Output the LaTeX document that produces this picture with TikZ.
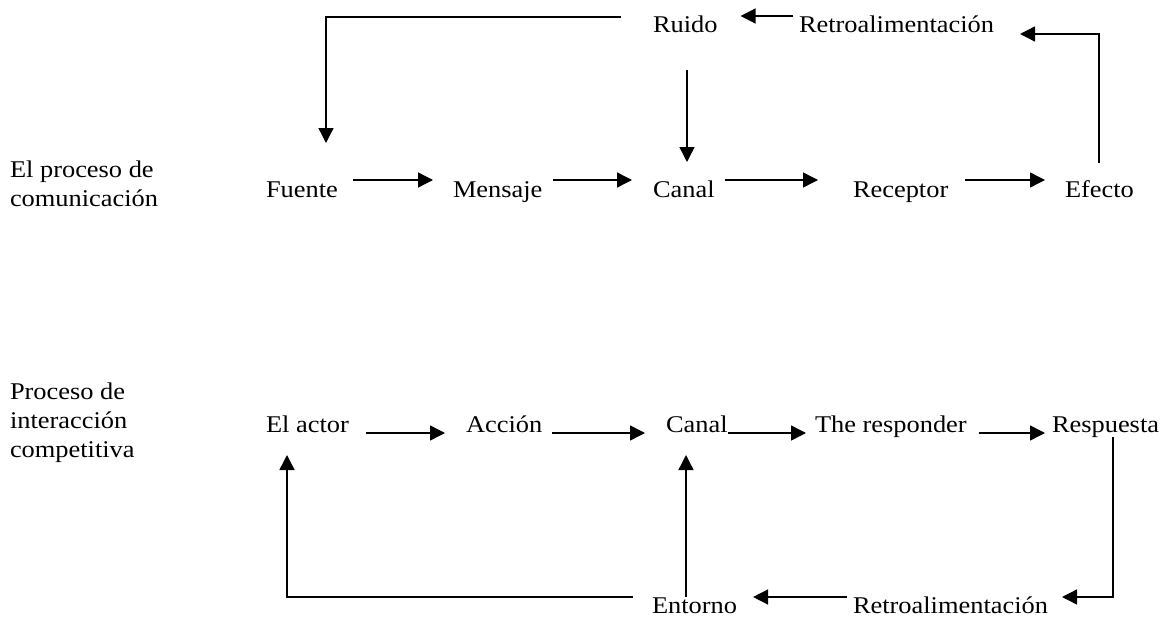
\documentclass[tikz,border=0pt]{standalone}
\usepackage{fontspec}
\setmainfont{Liberation Serif}
\usetikzlibrary{arrows.meta}
\begin{document}
\begin{tikzpicture}[x=1pt,y=-1pt,
  lbl/.style={anchor=base west,inner sep=0pt,outer sep=0pt,xscale=1.1,
    font=\fontsize{24}{29}\selectfont,align=left},
  arr/.style={line width=1.4pt,-{Triangle[length=15pt,width=15pt]}}]
\useasboundingbox (0,0) rectangle (1165,618);

% ---- El proceso de comunicación ----
\node[lbl] (t1) at (10,206) {El proceso de\\comunicación};
\node[lbl] (fuente)   at (266,197) {Fuente};
\node[lbl] (mensaje)  at (453,197) {Mensaje};
\node[lbl] (canal)    at (653,197) {Canal};
\node[lbl] (receptor) at (853,197) {Receptor};
\node[lbl] (efecto)   at (1065,197) {Efecto};
\node[lbl] (ruido)    at (653,33) {Ruido};
\node[lbl] (retro)    at (799,33) {Retroalimentación};

\coordinate (r1) at (0,180);
\draw[arr] ([xshift=15]fuente.east |- r1)   -- ([xshift=-20]mensaje.west |- r1);
\draw[arr] ([xshift=11]mensaje.east |- r1)  -- ([xshift=-21]canal.west |- r1);
\draw[arr] ([xshift=10]canal.east |- r1)    -- ([xshift=-35]receptor.west |- r1);
\draw[arr] ([xshift=17]receptor.east |- r1) -- ([xshift=-20]efecto.west |- r1);

\draw[arr] ([xshift=-6,yshift=17]retro.base west) -- ([xshift=23,yshift=17]ruido.base east);
\draw[arr] ([xshift=-32,yshift=16]ruido.base west) -| ([xshift=60,yshift=54]fuente.base west);
\draw[arr] ([xshift=34,yshift=-37]ruido.base west) -- ([xshift=34,yshift=35]canal.base west);
\draw[arr] ([xshift=34,yshift=34]efecto.base west) |- ([xshift=26,yshift=-1]retro.base east);

% ---- Proceso de interacción competitiva ----
\node[lbl] (t2) at (10,457) {Proceso de\\interacción\\competitiva};
\node[lbl] (actor)  at (266,432) {El actor};
\node[lbl] (accion) at (466,432) {Acción};
\node[lbl] (canal2) at (666,432) {Canal};
\node[lbl] (resp)   at (815,432) {The responder};
\node[lbl] (respta) at (1052,432) {Respuesta};
\node[lbl] (entorno) at (652,613) {Entorno};
\node[lbl] (retro2)  at (853,613) {Retroalimentación};

\coordinate (r2) at (0,433);
\draw[arr] ([xshift=17]actor.east |- r2)  -- ([xshift=-21]accion.west |- r2);
\draw[arr] ([xshift=10]accion.east |- r2) -- ([xshift=-21]canal2.west |- r2);
\draw[arr] (canal2.east |- r2)            -- ([xshift=-9]resp.west |- r2);
\draw[arr] ([xshift=12]resp.east |- r2)   -- ([xshift=-7]respta.west |- r2);

\draw[arr] ([xshift=61,yshift=-5]respta.base west) |- ([xshift=14,yshift=16]retro2.base east);
\draw[arr] ([xshift=-6,yshift=16]retro2.base west) -- ([xshift=16,yshift=16]entorno.base east);
\draw[arr] ([xshift=34,yshift=16]entorno.base west) -- ([xshift=20,yshift=-23]canal2.base west);
\draw[arr] ([xshift=-19,yshift=16]entorno.base west) -| ([xshift=21,yshift=-23]actor.base west);
\end{tikzpicture}
\end{document}
